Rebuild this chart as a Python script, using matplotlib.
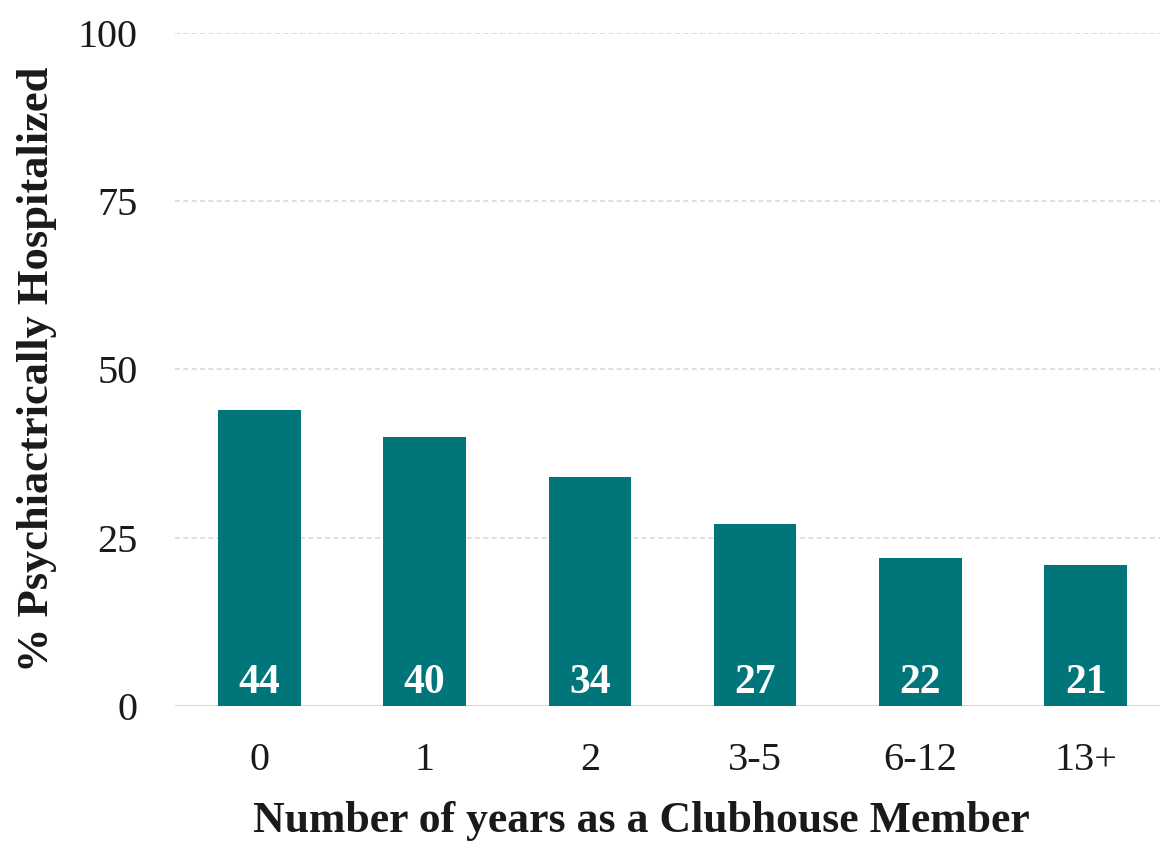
import matplotlib
matplotlib.use("Agg")
import matplotlib.pyplot as plt

categories = ["0", "1", "2", "3-5", "6-12", "13+"]
values = [44, 40, 34, 27, 22, 21]
yticks = [0, 25, 50, 75, 100]

plt.rcParams['font.family'] = ['Liberation Serif', 'DejaVu Serif']

fig = plt.figure(figsize=(11.6, 8.42), dpi=100)
ax = fig.add_axes([0.151, 0.1615, 0.849, 0.7995])

color = "#00767A"
x = list(range(len(categories)))
ax.bar(x, values, width=0.5, color=color, zorder=3)

for xi, v in zip(x, values):
    ax.annotate(str(v), xy=(xi, 0), xytext=(0, 3), textcoords="offset points",
                ha="center", va="bottom", color="white", fontsize=30,
                fontweight="bold", zorder=4)

ax.set_xlim(-0.51, 5.45)
ax.set_ylim(0, 100)
ax.set_yticks(yticks)
ax.set_xticks(x)
ax.set_xticklabels(categories)

for t in yticks[1:]:
    ax.axhline(t, color="#d9d9d9", linestyle=(0, (3, 2)), linewidth=1.2, zorder=1)
ax.axhline(0, color="#d9d9d9", linewidth=1.5, zorder=2)

for s in ax.spines.values():
    s.set_visible(False)
ax.tick_params(axis="both", length=0, labelsize=29, colors="#1a1a1a")
ax.tick_params(axis="y", pad=27)
ax.tick_params(axis="x", pad=26)

ax.set_xlabel("Number of years as a Clubhouse Member", fontsize=31.5,
              fontweight="bold", labelpad=16, color="#1a1a1a")
ax.xaxis.label.set_x(0.4736)
ax.set_ylabel("% Psychiactrically Hospitalized", fontsize=32,
              fontweight="bold", labelpad=15, color="#1a1a1a")

fig.savefig("out.png", dpi=100)
